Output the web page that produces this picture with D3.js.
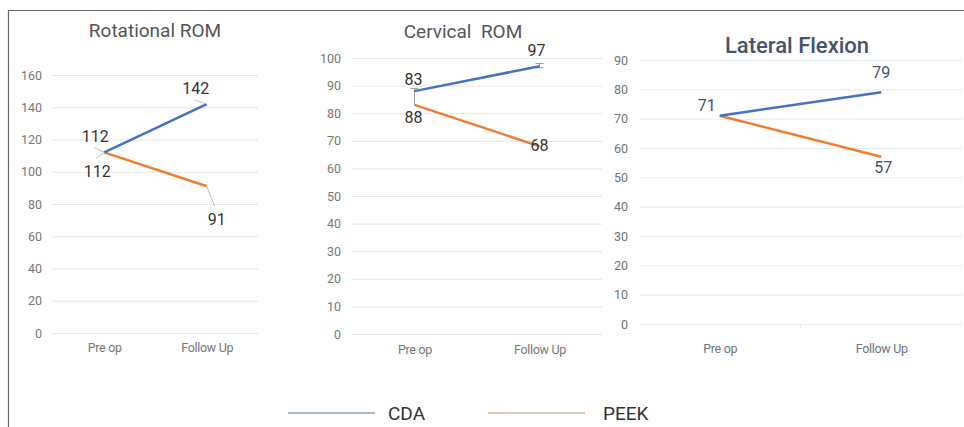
<!DOCTYPE html>
<html><head><meta charset="utf-8">
<script src="https://cdn.jsdelivr.net/npm/d3@7/dist/d3.min.js"></script>
<style>body{margin:0;background:#fff;font-family:Roboto,"Noto Sans",sans-serif}</style>
</head><body><svg id="c" width="964" height="427"></svg>
<script>
const categories = ["Pre op", "Follow Up"];
const seriesNames = ["CDA", "PEEK"];

const rotTitle = "Rotational ROM";
const rotCDA = [112, 142];
const rotPEEK = [112, 91];
const rotTicks = [0, 20, 40, 60, 80, 100, 120, 140, 160];
const rotLabelsCDA = ["112", "142"];
const rotLabelsPEEK = ["112", "91"];

const cerTitle = "Cervical  ROM";
const cerCDA = [88, 97];
const cerPEEK = [83, 68];
const cerTicks = [0, 10, 20, 30, 40, 50, 60, 70, 80, 90, 100];
const cerLabelsCDA = ["83", "97"];
const cerLabelsPEEK = ["88", "68"];
const cerErrCDA = [[83, 89], [96.5, 98]];

const latTitle = "Lateral Flexion";
const latCDA = [71, 79];
const latPEEK = [71, 57];
const latTicks = [0, 10, 20, 30, 40, 50, 60, 70, 80, 90];
const latLabelsCDA = ["71", "79"];
const latLabelsPEEK = ["", "57"];

const svg = d3.select("#c");
const colors = {CDA: "#4472c4", PEEK: "#ed7d31"};

// outer frame
svg.append("path").attr("d", "M8.5,427 L8.5,10.5 L964,10.5").attr("fill", "none").attr("stroke", "#666").attr("stroke-width", 1.2);

function panel(cfg) {
  const g = svg.append("g");
  const x = d3.scalePoint().domain(categories).range([cfg.left, cfg.right]).padding(0.5);
  const y = d3.scaleLinear().domain([0, d3.max(cfg.ticks)]).range([cfg.bottom, cfg.top]);
  const ax = d3.axisLeft(y).tickValues(cfg.ticks).tickSize(-(cfg.right - cfg.left)).tickPadding(11).tickFormat(d3.format("d"));
  const axg = g.append("g").attr("transform", `translate(${cfg.left},0)`).call(ax);
  axg.select(".domain").remove();
  axg.selectAll(".tick line").attr("stroke", cfg.grid).attr("stroke-width", 1);
  axg.selectAll(".tick text").attr("fill", cfg.tickColor).attr("font-size", 12.5).attr("font-family", "Roboto");
  const xa = d3.axisBottom(x).tickSize(0).tickPadding(0);
  const xg = g.append("g").attr("transform", `translate(0,${cfg.bottom + cfg.xlabOff})`).call(xa);
  xg.select(".domain").remove();
  xg.selectAll(".tick text").attr("fill", cfg.tickColor).attr("font-size", 12.5).attr("font-family", "Roboto").attr("letter-spacing", "-0.3px");
  if (cfg.midTick) {
    g.append("line").attr("x1", (cfg.left + cfg.right) / 2).attr("x2", (cfg.left + cfg.right) / 2)
      .attr("y1", cfg.bottom).attr("y2", cfg.bottom + 4).attr("stroke", cfg.grid);
  }
  g.append("text").attr("x", cfg.titleX).attr("y", cfg.titleY).attr("text-anchor", "middle")
    .attr("font-size", cfg.titleSize).attr("fill", cfg.titleColor).attr("font-family", "Roboto")
    .attr("font-weight", cfg.titleWeight || 400).style("white-space", "pre").text(cfg.title);
  if (cfg.err) {
    cfg.err.forEach((e, i) => {
      const cx = x(categories[i]);
      g.append("line").attr("x1", cx).attr("x2", cx).attr("y1", y(e[0])).attr("y2", y(e[1])).attr("stroke", "#999").attr("stroke-width", 1);
      [e[0], e[1]].forEach((v, j) => {
        if (i === 0 && j === 0) return;
        g.append("line").attr("x1", cx - 4).attr("x2", cx + 4).attr("y1", y(v)).attr("y2", y(v)).attr("stroke", "#999").attr("stroke-width", 1);
      });
    });
  }
  const line = d3.line().x((d, i) => x(categories[i])).y(d => y(d));
  [["PEEK", cfg.peek], ["CDA", cfg.cda]].forEach(([n, vals]) => {
    g.append("path").datum(vals).attr("d", line).attr("fill", "none").attr("stroke", colors[n]).attr("stroke-width", 2.5);
  });
  cfg.labels.forEach(l => {
    const vals = l.s === "CDA" ? cfg.cda : cfg.peek;
    const txt = (l.s === "CDA" ? cfg.labCDA : cfg.labPEEK)[l.i];
    const px = x(categories[l.i]), py = y(vals[l.i]);
    if (l.leader) {
      g.append("line").attr("x1", px).attr("y1", py).attr("x2", px + l.leader[0]).attr("y2", py + l.leader[1])
        .attr("stroke", "#bbb").attr("stroke-width", 1);
    }
    g.append("text").attr("x", px + l.dx).attr("y", py + l.dy).attr("text-anchor", "middle")
      .attr("font-size", 16).attr("fill", cfg.labColor).attr("font-family", "Roboto").text(txt);
  });
}

panel({left: 53, right: 258, top: 75, bottom: 333, ticks: rotTicks, cda: rotCDA, peek: rotPEEK,
  labCDA: rotLabelsCDA, labPEEK: rotLabelsPEEK, title: rotTitle, titleX: 155, titleY: 37, titleSize: 19,
  titleColor: "#555", grid: "#e6e6e6", tickColor: "#777", labColor: "#333", xlabOff: 10,
  labels: [
    {s: "CDA", i: 0, dx: -9, dy: -10, leader: [-10, -5]},
    {s: "PEEK", i: 0, dx: -7, dy: 25, leader: [-8, 6]},
    {s: "CDA", i: 1, dx: -11, dy: -10, leader: [-12, -4]},
    {s: "PEEK", i: 1, dx: 10, dy: 39, leader: [8, 20]}
  ]});

panel({left: 352, right: 602, top: 58, bottom: 334, ticks: cerTicks, cda: cerCDA, peek: cerPEEK,
  labCDA: cerLabelsCDA, labPEEK: cerLabelsPEEK, title: cerTitle, titleX: 463, titleY: 38, titleSize: 19,
  titleColor: "#555", grid: "#e6e6e6", tickColor: "#777", labColor: "#333", xlabOff: 11,
  err: cerErrCDA,
  labels: [
    {s: "CDA", i: 0, dx: -1, dy: -6.5},
    {s: "PEEK", i: 0, dx: -1, dy: 18.5},
    {s: "CDA", i: 1, dx: -3, dy: -10},
    {s: "PEEK", i: 1, dx: 0, dy: 5}
  ]});

panel({left: 639, right: 962, top: 60, bottom: 324, ticks: latTicks, cda: latCDA, peek: latPEEK,
  labCDA: latLabelsCDA, labPEEK: latLabelsPEEK, title: latTitle, titleX: 797, titleY: 53, titleSize: 22,
  titleColor: "#44546a", titleWeight: 500, grid: "#e4ebf0", tickColor: "#6a7580", labColor: "#44546a", xlabOff: 20,
  midTick: true,
  labels: [
    {s: "CDA", i: 0, dx: -13, dy: -4.5},
    {s: "CDA", i: 1, dx: 0, dy: -14},
    {s: "PEEK", i: 1, dx: 2, dy: 16}
  ]});

const legend = [
  {name: seriesNames[0], x1: 288, x2: 375, tx: 388, color: "#a7bacb"},
  {name: seriesNames[1], x1: 488, x2: 585, tx: 603, color: "#e9c8ae"}
];
legend.forEach(l => {
  svg.append("line").attr("x1", l.x1).attr("x2", l.x2).attr("y1", 413).attr("y2", 413).attr("stroke", l.color).attr("stroke-width", 2);
  svg.append("text").attr("x", l.tx).attr("y", 420).attr("font-size", 19).attr("fill", "#333").attr("font-family", "Roboto").text(l.name);
});
</script></body></html>
